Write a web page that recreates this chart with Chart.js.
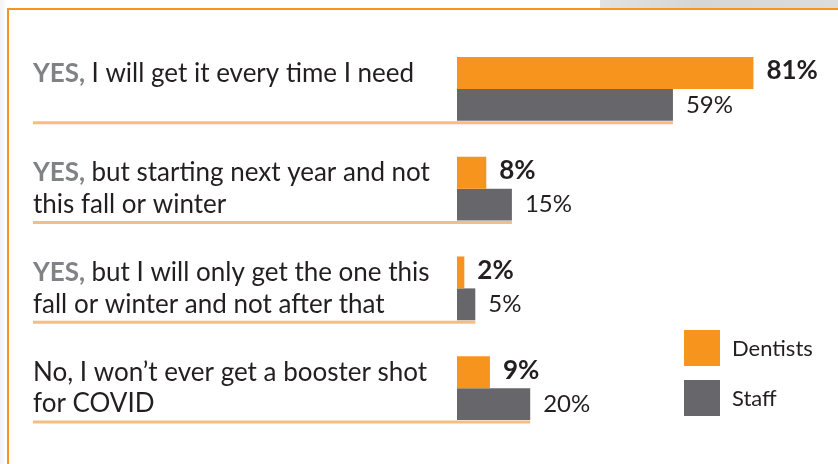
<!DOCTYPE html>
<html>
<head>
<meta charset="utf-8">
<script src="https://cdn.jsdelivr.net/npm/chart.js@4"></script>
<style>
  html, body { margin: 0; padding: 0; background: #fff; }
  #wrap { position: relative; width: 838px; height: 464px; overflow: hidden;
          background: linear-gradient(90deg, #f2f2f2 0px, #fff 7px); }
  #strip { position: absolute; left: 600px; top: 0; width: 238px; height: 8px;
           background: linear-gradient(90deg, #e2e2e0, #d6d6d4 40%, #dcdcda); }
  #frame { position: absolute; left: 7px; top: 8px; right: 0; bottom: 0; background: #fff;
           border-left: 2px solid #F7941D; border-top: 2px solid #F7941D; }
  canvas { position: absolute; left: 0; top: 0; }
</style>
</head>
<body>
<div id="wrap">
  <div id="strip"></div>
  <div id="frame"></div>
  <canvas id="chart" width="838" height="464"></canvas>
</div>
<script>
// Data
const leadWords = ['YES,', 'YES,', 'YES,', ''];
const categoryLines = [
    ['I will get it every time I need'],
    ['but starting next year and not', 'this fall or winter'],
    ['but I will only get the one this', 'fall or winter and not after that'],
    ['No, I won\u2019t ever get a booster shot', 'for COVID']
];
const seriesNames = ['Dentists', 'Staff'];
const dentists = [81, 8, 2, 9];
const staff = [59, 15, 5, 20];

// Colours
const ORANGE = '#F7941D';
const GREY = '#67666B';
const TEXT = '#231F20';
const LEAD = '#808285';
const FONT = 'Lato';

// Category labels, underlines, value labels, legend
const decorPlugin = {
    id: 'decor',
    afterDatasetsDraw(chart) {
        const ctx = chart.ctx;
        const top = chart.getDatasetMeta(0).data;
        const bottom = chart.getDatasetMeta(1).data;
        ctx.save();
        ctx.textBaseline = 'middle';

        categoryLines.forEach((lines, i) => {
            const ys = [top[i].y, bottom[i].y];
            lines.forEach((line, j) => {
                let x = 33;
                const y = lines.length === 1 ? ys[0] + 1 : ys[j];
                if (j === 0 && leadWords[i]) {
                    ctx.font = 'bold 26px ' + FONT;
                    ctx.fillStyle = LEAD;
                    ctx.fillText(leadWords[i], x, y);
                    x += ctx.measureText(leadWords[i] + ' ').width;
                }
                ctx.font = '26px ' + FONT;
                ctx.fillStyle = TEXT;
                ctx.fillText(line, x, y);
            });

            // underline runs to the end of the staff bar
            const uy = bottom[i].y + bottom[i].height / 2 + 2;
            ctx.strokeStyle = '#F7BD80';
            ctx.lineWidth = 3;
            ctx.beginPath();
            ctx.moveTo(33, uy);
            ctx.lineTo(bottom[i].x, uy);
            ctx.stroke();

            // value labels
            ctx.fillStyle = TEXT;
            ctx.font = 'bold 26px ' + FONT;
            ctx.fillText(dentists[i] + '%', top[i].x + 13, top[i].y - 2);
            ctx.font = '24px ' + FONT;
            ctx.fillText(staff[i] + '%', bottom[i].x + 13, bottom[i].y);
        });

        // legend
        const colors = [ORANGE, GREY];
        seriesNames.forEach((name, k) => {
            const y = 330 + k * 50;
            ctx.fillStyle = colors[k];
            ctx.fillRect(684, y, 36, 36);
            ctx.fillStyle = TEXT;
            ctx.font = '22px ' + FONT;
            ctx.fillText(name, 732, y + 19);
        });
        ctx.restore();
    }
};

const chart = new Chart(document.getElementById('chart'), {
    type: 'bar',
    data: {
        labels: categoryLines.map((l, i) => (leadWords[i] ? leadWords[i] + ' ' : '') + l.join(' ')),
        datasets: [
            { label: seriesNames[0], data: dentists, backgroundColor: ORANGE },
            { label: seriesNames[1], data: staff, backgroundColor: GREY }
        ]
    },
    options: {
        indexAxis: 'y',
        responsive: false,
        animation: false,
        events: [],
        layout: { padding: { left: 457, right: 15, top: 39, bottom: 26 } },
        datasets: { bar: { categoryPercentage: 0.64, barPercentage: 1 } },
        plugins: {
            legend: { display: false },
            tooltip: { enabled: false }
        },
        scales: {
            x: { display: false, min: 0, max: 100 },
            y: { display: false }
        }
    },
    plugins: [decorPlugin]
});
</script>
</body>
</html>
